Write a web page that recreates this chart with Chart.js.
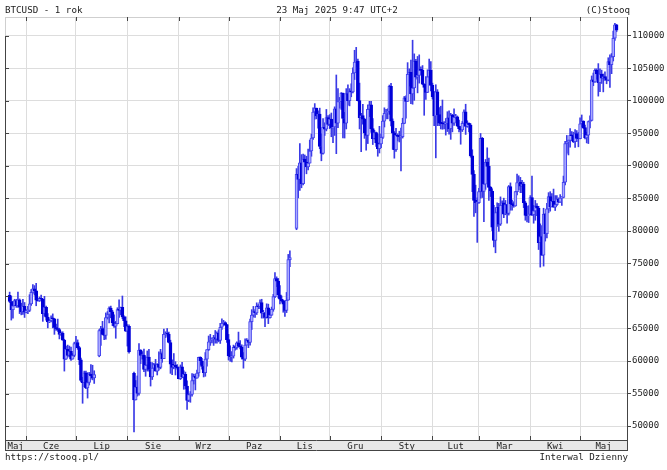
<!DOCTYPE html>
<html>
<head>
<meta charset="utf-8">
<title>BTCUSD - 1 rok</title>
<script src="https://cdn.jsdelivr.net/npm/chart.js@4.4.1/dist/chart.umd.min.js"></script>
<style>
  html, body { margin: 0; padding: 0; background: #fff; }
  #wrap { position: relative; width: 667px; height: 470px; }
  #wrap canvas { position: absolute; left: 0; top: 0; }
  .txt { position: absolute; font: 9.2px "DejaVu Sans Mono", monospace; color: #222; line-height: 12px; white-space: nowrap; }
</style>
</head>
<body>
<div id="wrap">
  <canvas id="chart" width="667" height="470"></canvas>
  <div class="txt" style="left:5px; top:4px">BTCUSD - 1 rok</div>
  <div class="txt" style="left:337px; top:4px; transform:translateX(-50%)">23 Maj 2025 9:47 UTC+2</div>
  <div class="txt" style="right:37px; top:4px">(C)Stooq</div>
  <div class="txt" style="left:5px; top:451px">https://stooq.pl/</div>
  <div class="txt" style="right:39px; top:451px">Interwal Dzienny</div>
</div>
<script>
// daily candles from 22 May 2024, values in thousands USD, null = no quote that day
const firstDay = [2024, 4, 22];
const monthNames = ["Maj", "Cze", "Lip", "Sie", "Wrz", "Paz", "Lis", "Gru", "Sty", "Lut", "Mar", "Kwi", "Maj"];
const yTicks = [50000, 55000, 60000, 65000, 70000, 75000, 80000, 85000, 90000, 95000, 100000, 105000, 110000];

const open = [
  70.10,69.15,67.90,68.50,69.30,68.50,69.40,68.30,67.60,68.40,
  67.50,67.75,67.80,68.80,70.55,71.10,70.80,69.35,69.30,69.65,69.50,67.30,68.25,66.75,66.00,66.20,66.65,66.50,65.15,64.95,64.85,64.10,64.25,63.20,60.30,61.80,60.85,61.50,60.30,60.85,
  62.70,62.85,62.05,60.20,57.00,56.65,58.20,55.85,56.70,58.00,57.70,57.40,null,null,60.80,64.70,65.00,64.10,63.95,66.70,67.15,68.15,67.55,65.90,65.35,65.75,67.90,67.80,68.25,66.80,66.20,
  64.60,65.35,null,null,58.10,54.00,56.00,55.00,61.70,60.85,60.90,58.70,59.35,60.60,58.70,57.55,58.90,59.45,58.45,59.50,59.00,61.15,60.35,64.10,64.20,64.15,62.85,59.50,59.00,59.35,59.10,
  58.95,57.30,59.10,57.50,57.95,56.15,53.95,54.85,54.85,57.00,57.65,57.35,58.15,60.55,60.00,59.15,58.20,60.30,61.75,62.95,63.20,63.35,63.60,63.35,64.30,63.15,65.20,65.80,65.90,65.60,
  63.30,60.80,60.65,60.75,62.10,62.05,62.80,62.25,62.15,60.60,60.30,62.45,63.20,62.85,66.05,67.05,67.60,67.40,68.40,68.35,69.00,67.35,67.40,66.70,68.20,66.65,67.05,67.95,69.90,72.70,72.30,
  70.20,69.50,69.30,68.75,67.80,69.35,75.60,null,null,null,80.40,88.70,87.95,90.50,87.30,91.05,90.60,89.85,90.45,92.30,94.30,98.30,98.90,97.70,98.00,93.00,91.95,95.95,95.65,97.45,
  96.40,97.20,95.85,96.00,98.80,96.60,99.90,99.90,101.20,97.30,96.60,101.15,100.05,101.45,101.40,104.30,106.00,106.15,100.05,97.45,97.75,97.20,95.10,94.70,98.70,99.40,95.75,94.20,95.15,93.55,92.65,
  93.40,94.40,96.90,98.10,98.25,98.35,102.25,96.90,95.05,92.50,94.70,94.55,94.50,94.50,96.55,100.50,99.95,104.10,104.40,101.10,102.00,106.15,103.65,103.95,104.80,104.70,102.60,102.10,101.30,103.70,104.70,
  102.40,100.65,97.70,101.40,97.90,96.60,96.55,96.50,96.45,96.50,97.40,95.75,97.85,96.60,97.50,97.55,96.15,95.75,95.55,96.55,98.35,96.10,96.55,96.30,91.55,88.70,84.70,84.35,
  84.35,86.05,94.25,86.10,87.20,90.60,89.95,86.70,86.15,80.60,78.55,82.85,83.65,81.05,83.95,84.35,82.60,84.05,82.70,86.85,84.15,84.05,83.85,86.05,87.45,87.50,86.90,87.20,84.35,82.40,82.35,
  82.55,85.15,82.50,83.10,83.85,83.50,78.20,79.15,76.30,82.60,79.60,83.40,85.30,83.70,84.55,83.65,84.05,84.90,84.45,85.05,85.15,87.50,93.45,93.70,93.95,94.70,94.65,93.75,95.00,94.25,
  94.20,96.50,96.90,95.90,94.30,94.75,96.85,97.00,103.25,102.95,104.70,104.15,102.80,104.15,103.50,103.75,103.50,103.20,106.05,105.60,106.80,109.65,111.70
];
const high = [
  70.60,70.00,69.20,69.50,69.50,70.60,69.55,68.90,69.50,69.00,
  67.85,68.40,70.20,71.00,71.75,71.60,71.95,69.55,69.85,70.15,69.55,69.95,68.45,67.30,66.40,66.95,67.25,66.55,65.70,66.45,65.05,64.50,64.50,63.35,62.30,62.45,62.30,62.15,61.15,62.90,
  63.80,63.25,62.25,60.45,57.50,58.45,58.45,58.20,58.25,59.45,59.35,58.50,null,null,64.85,65.35,66.10,65.10,67.40,67.60,68.35,68.45,67.80,67.10,66.10,68.20,69.40,68.30,70.00,66.95,66.80,
  65.60,65.55,null,null,58.30,57.00,57.70,62.70,61.75,61.45,61.85,60.65,61.55,61.80,59.80,59.75,59.65,60.25,59.60,61.40,61.80,61.40,64.90,64.50,65.00,64.45,63.20,60.20,61.15,59.90,59.45,
  59.05,59.40,59.80,58.50,58.30,56.95,54.85,55.30,58.05,58.00,57.95,58.60,60.60,60.65,60.40,59.20,61.30,61.75,63.85,64.10,63.55,63.95,64.70,64.50,64.80,65.80,66.50,66.25,66.05,65.65,
  64.10,62.35,61.45,62.45,62.35,62.95,64.45,63.15,62.50,61.30,63.40,63.45,63.25,66.45,67.90,68.40,67.90,68.95,68.70,69.40,69.50,67.80,67.45,68.80,68.75,67.45,68.30,70.25,73.60,72.95,72.70,
  71.60,70.00,69.40,69.00,70.55,76.40,76.95,null,null,null,89.60,89.95,93.45,91.75,91.85,91.70,91.50,92.60,94.00,94.90,98.95,99.60,98.90,98.50,98.90,94.95,97.30,96.65,98.70,97.75,
  97.90,98.15,96.30,99.10,104.00,101.90,100.55,101.30,101.20,98.25,101.90,102.50,101.90,102.65,105.10,107.80,108.25,106.45,102.75,98.10,99.50,97.35,96.45,99.40,99.95,99.95,97.30,95.50,95.20,94.90,96.10,
  94.90,97.75,98.95,98.70,98.80,102.45,102.70,97.25,95.30,95.80,94.95,95.35,95.85,97.35,100.70,100.80,105.90,104.95,106.30,109.35,107.25,106.40,106.85,107.10,105.25,105.45,102.65,103.75,104.80,106.45,106.05,
  102.75,101.45,102.50,101.75,99.00,99.20,100.15,96.85,97.30,98.35,98.50,98.10,97.95,98.80,97.95,97.70,97.05,96.05,96.85,98.65,99.50,96.95,96.65,96.50,92.50,89.30,87.05,85.10,
  86.55,95.00,94.40,88.95,91.00,92.80,91.20,86.85,86.50,83.95,83.60,84.35,84.25,85.25,84.65,85.05,84.70,84.05,87.00,87.40,84.75,84.50,86.10,88.75,88.50,88.25,87.80,87.50,84.55,83.85,83.90,
  85.45,88.45,83.90,84.70,84.20,83.80,81.10,80.85,83.50,82.70,84.25,85.90,86.05,85.75,86.45,85.45,85.45,85.10,85.60,85.30,88.45,93.80,94.70,94.00,95.75,95.30,95.20,95.60,95.45,95.15,
  97.40,97.85,96.95,96.30,95.20,96.90,97.70,103.85,104.30,104.95,104.95,105.75,104.95,104.75,104.15,104.50,103.70,106.65,107.10,107.30,110.75,111.95,111.80
];
const low = [
  69.00,66.30,66.60,68.50,68.25,68.25,67.30,67.10,67.15,66.70,
  67.40,67.30,67.60,68.55,70.40,70.15,68.50,69.20,69.15,69.25,66.10,66.90,66.30,65.10,65.90,66.00,65.10,64.10,64.70,64.55,63.40,63.95,63.20,58.45,60.25,60.60,60.65,60.10,60.30,60.65,
  62.55,61.80,59.45,56.80,53.50,56.05,55.75,54.30,56.30,57.20,57.10,56.55,null,null,60.65,62.40,64.05,63.30,63.35,66.45,65.85,66.65,65.45,65.15,63.50,65.70,66.70,67.10,66.50,65.30,64.55,
  62.30,61.20,null,null,49.10,54.00,54.60,54.75,59.60,60.30,58.35,57.65,58.45,58.45,56.15,57.15,58.80,58.45,57.85,58.60,58.80,59.80,60.35,63.60,63.80,62.80,58.10,57.90,58.80,57.85,58.75,
  57.25,57.15,57.45,55.65,55.70,52.55,53.75,53.65,54.60,56.45,55.55,57.35,57.65,59.45,58.75,57.55,57.65,59.20,61.60,62.40,62.80,62.40,62.75,62.75,62.95,62.70,64.85,65.45,65.45,62.85,
  60.15,59.95,59.85,60.45,61.65,61.80,62.15,61.85,60.30,58.90,60.05,62.45,62.05,62.45,64.85,66.75,66.70,67.15,68.05,68.05,66.60,66.60,65.30,66.60,65.75,66.60,67.00,67.65,69.75,71.45,69.70,
  68.80,69.05,67.50,66.85,67.45,69.35,74.50,null,null,null,80.20,85.10,86.25,86.65,87.10,90.10,88.80,89.40,90.45,91.50,94.10,97.20,97.25,95.80,92.65,90.80,91.80,94.70,95.40,96.20,
  95.75,94.50,93.60,94.70,91.90,95.90,98.90,98.70,94.30,94.30,95.70,99.35,99.25,100.65,101.25,103.30,105.30,100.00,95.70,92.20,96.45,94.25,92.45,93.45,97.60,95.15,93.30,94.15,93.00,91.50,92.00,
  92.80,94.20,96.00,97.25,97.25,97.95,96.15,92.55,91.20,92.25,93.85,93.70,89.25,94.30,96.50,97.35,99.95,102.30,99.60,99.50,100.10,103.35,101.25,102.75,104.15,102.50,97.80,100.25,101.30,103.30,101.55,
  100.30,96.20,91.25,96.20,96.20,95.70,95.65,95.70,94.75,95.30,94.90,94.10,95.25,96.25,97.25,96.05,95.25,93.35,95.30,96.40,94.85,95.95,95.25,91.35,86.05,82.25,82.80,78.25,
  84.25,85.05,85.15,81.45,86.40,87.85,84.70,85.30,80.05,77.55,76.65,80.70,79.95,80.85,83.70,82.05,82.50,81.20,82.45,83.20,83.20,83.65,83.80,85.55,86.35,85.90,85.90,83.60,81.65,81.40,81.30,
  82.45,82.35,81.20,81.65,82.35,77.15,74.45,76.25,74.60,78.45,78.95,82.80,83.05,83.70,83.65,83.15,83.90,84.35,84.40,83.95,85.10,87.10,91.95,91.70,92.90,93.90,93.60,92.85,93.75,92.95,
  94.15,96.05,95.75,94.15,93.55,93.45,95.85,96.95,102.35,102.85,103.35,100.75,101.45,102.70,101.40,103.15,102.65,103.10,102.10,104.20,106.15,109.30,110.65
];
const close = [
  69.15,67.90,68.50,69.30,68.50,69.40,68.30,67.60,68.40,67.50,
  67.75,67.80,68.80,70.55,71.10,70.80,69.35,69.30,69.65,69.50,67.30,68.25,66.75,66.00,66.20,66.65,66.50,65.15,64.95,64.85,64.10,64.25,63.20,60.30,61.80,60.85,61.50,60.30,60.85,62.70,
  62.85,62.05,60.20,57.00,56.65,58.20,55.85,56.70,58.00,57.70,57.40,57.90,null,null,64.70,65.00,64.10,63.95,66.70,67.15,68.15,67.55,65.90,65.35,65.75,67.90,67.80,68.25,66.80,66.20,64.60,
  65.35,61.40,null,null,54.00,56.00,55.00,61.70,60.85,60.90,58.70,59.35,60.60,58.70,57.55,58.90,59.45,58.45,59.50,59.00,61.15,60.35,64.10,64.20,64.15,62.85,59.50,59.00,59.35,59.10,58.95,
  57.30,59.10,57.50,57.95,56.15,53.95,54.85,54.85,57.00,57.65,57.35,58.15,60.55,60.00,59.15,58.20,60.30,61.75,62.95,63.20,63.35,63.60,63.35,64.30,63.15,65.20,65.80,65.90,65.60,63.30,
  60.80,60.65,60.75,62.10,62.05,62.80,62.25,62.15,60.60,60.30,62.45,63.20,62.85,66.05,67.05,67.60,67.40,68.40,68.35,69.00,67.35,67.40,66.70,68.20,66.65,67.05,67.95,69.90,72.70,72.30,70.20,
  69.50,69.30,68.75,67.80,69.35,75.60,75.90,null,null,null,88.70,87.95,90.50,87.30,91.05,90.60,89.85,90.45,92.30,94.30,98.30,98.90,97.70,98.00,93.00,91.95,95.95,95.65,97.45,96.40,
  97.20,95.85,96.00,98.80,96.60,99.90,99.90,101.20,97.30,96.60,101.15,100.05,101.45,101.40,104.30,106.00,106.15,100.05,97.45,97.75,97.20,95.10,94.70,98.70,99.40,95.75,94.20,95.15,93.55,92.65,93.40,
  94.40,96.90,98.10,98.25,98.35,102.25,96.90,95.05,92.50,94.70,94.55,94.50,94.50,96.55,100.50,99.95,104.10,104.40,101.10,102.00,106.15,103.65,103.95,104.80,104.70,102.60,102.10,101.30,103.70,104.70,102.40,
  100.65,97.70,101.40,97.90,96.60,96.55,96.50,96.45,96.50,97.40,95.75,97.85,96.60,97.50,97.55,96.15,95.75,95.55,96.55,98.35,96.10,96.55,96.30,91.55,88.70,84.70,84.35,84.35,
  86.05,94.25,86.10,87.20,90.60,89.95,86.70,86.15,80.60,78.55,82.85,83.65,81.05,83.95,84.35,82.60,84.05,82.70,86.85,84.15,84.05,83.85,86.05,87.45,87.50,86.90,87.20,84.35,82.40,82.35,82.55,
  85.15,82.50,83.10,83.85,83.50,78.20,79.15,76.30,82.60,79.60,83.40,85.30,83.70,84.55,83.65,84.05,84.90,84.45,85.05,85.15,87.50,93.45,93.70,93.95,94.70,94.65,93.75,95.00,94.25,94.20,
  96.50,96.90,95.90,94.30,94.75,96.85,97.00,103.25,102.95,104.70,104.15,102.80,104.15,103.50,103.75,103.50,103.20,106.05,105.60,106.80,109.65,111.70,110.90
];

// x axis runs in days since firstDay
const xMin = -2.8;
const xMax = 372.3;

const dayDate = i => new Date(firstDay[0], firstDay[1], firstDay[2] + i);
const monthStarts = [];
for (let i = 0; i < close.length; i++) {
  if (dayDate(i).getDate() === 1) monthStarts.push(i);
}
const edges = [xMin, ...monthStarts, xMax];
const monthMids = monthNames.map((_, k) => (edges[k] + edges[k + 1]) / 2);
const labelAt = new Map(monthMids.map((v, k) => [v, monthNames[k]]));
const startSet = new Set(monthStarts);
const xTicks = [...monthStarts, ...monthMids].sort((a, b) => a - b);

const wicks = [];
const bodies = [];
const bodyFill = [];
const bodyLine = [];
for (let i = 0; i < close.length; i++) {
  if (close[i] == null) continue;
  wicks.push({ x: i, y: [low[i] * 1000, high[i] * 1000] });
  bodies.push({ x: i, y: [open[i] * 1000, close[i] * 1000] });
  const up = close[i] >= open[i];
  bodyFill.push(up ? "#aaaaff" : "#0000d8");
  bodyLine.push(up ? "#4646ee" : "#0000d8");
}

const axisFont = { family: "DejaVu Sans Mono", size: 9 };

// grey month band, plot frame and little axis ticks like on stooq
const frame = {
  id: "frame",
  beforeDraw(chart) {
    const { ctx, chartArea: a } = chart;
    ctx.save();
    ctx.fillStyle = "#e8e8e8";
    ctx.fillRect(a.left, a.bottom, a.right - a.left, 10);
    ctx.restore();
  },
  afterDraw(chart) {
    const { ctx, chartArea: a, scales } = chart;
    const px = v => Math.round(v) + 0.5;
    ctx.save();
    ctx.lineWidth = 1;
    ctx.strokeStyle = "#cfcfcf";
    ctx.beginPath();
    ctx.moveTo(a.left, px(a.top)); ctx.lineTo(a.right, px(a.top));
    ctx.moveTo(px(a.left), a.top); ctx.lineTo(px(a.left), scales.y.getPixelForValue(yTicks[yTicks.length - 1]));
    ctx.stroke();
    ctx.strokeStyle = "#444";
    ctx.beginPath();
    const yTop = scales.y.getPixelForValue(yTicks[yTicks.length - 1]);
    ctx.moveTo(px(a.left), yTop); ctx.lineTo(px(a.left), a.bottom + 10);
    ctx.moveTo(a.left, px(a.bottom + 10)); ctx.lineTo(a.right + 1, px(a.bottom + 10));
    ctx.moveTo(px(a.right), a.bottom); ctx.lineTo(px(a.right), a.bottom + 10);
    yTicks.forEach(v => {
      const y = px(scales.y.getPixelForValue(v));
      ctx.moveTo(a.left, y); ctx.lineTo(a.left + 4, y);
    });
    monthStarts.forEach(d => {
      const x = px(scales.x.getPixelForValue(d));
      ctx.moveTo(x, a.bottom - 4); ctx.lineTo(x, a.bottom + 1);
      ctx.moveTo(x, a.top); ctx.lineTo(x, a.top + 4);
    });
    ctx.stroke();
    ctx.restore();
  }
};

const chart = new Chart(document.getElementById("chart"), {
  type: "bar",
  data: {
    datasets: [
      {
        label: "Open-Close",
        data: bodies,
        backgroundColor: bodyFill,
        borderColor: bodyLine,
        borderWidth: 1,
        borderSkipped: false,
        barThickness: 3,
        minBarLength: 1,
        grouped: false,
        order: 0,
      },
      {
        label: "Low-High",
        data: wicks,
        backgroundColor: "#3a3ae6",
        barThickness: 1,
        grouped: false,
        order: 1,
      },
    ],
  },
  options: {
    responsive: false,
    animation: false,
    devicePixelRatio: 1,
    layout: { padding: { left: 5, top: 17, right: 0, bottom: 20 } },
    plugins: {
      legend: { display: false },
      tooltip: { enabled: false },
    },
    scales: {
      x: {
        type: "linear",
        min: xMin,
        max: xMax,
        offset: false,
        afterBuildTicks: s => { s.ticks = xTicks.map(v => ({ value: v })); },
        afterFit: s => { s.height = 10; },
        ticks: {
          autoSkip: false,
          maxRotation: 0,
          padding: 1,
          font: axisFont,
          color: "#222",
          callback: v => labelAt.get(v) || "",
        },
        grid: {
          offset: false,
          drawTicks: false,
          color: c => (c.tick && startSet.has(c.tick.value) ? "#dddddd" : "rgba(0,0,0,0)"),
        },
        border: { color: "#444" },
      },
      y: {
        position: "right",
        min: 47850,
        max: 112920,
        afterBuildTicks: s => { s.ticks = yTicks.map(v => ({ value: v })); },
        afterFit: s => { s.width = 40; },
        ticks: {
          padding: 1,
          font: axisFont,
          color: "#222",
          callback: v => String(v),
        },
        grid: { color: "#dddddd", tickColor: "#444", tickLength: 4 },
        border: { color: "#444" },
      },
    },
  },
  plugins: [frame],
});
</script>
</body>
</html>
